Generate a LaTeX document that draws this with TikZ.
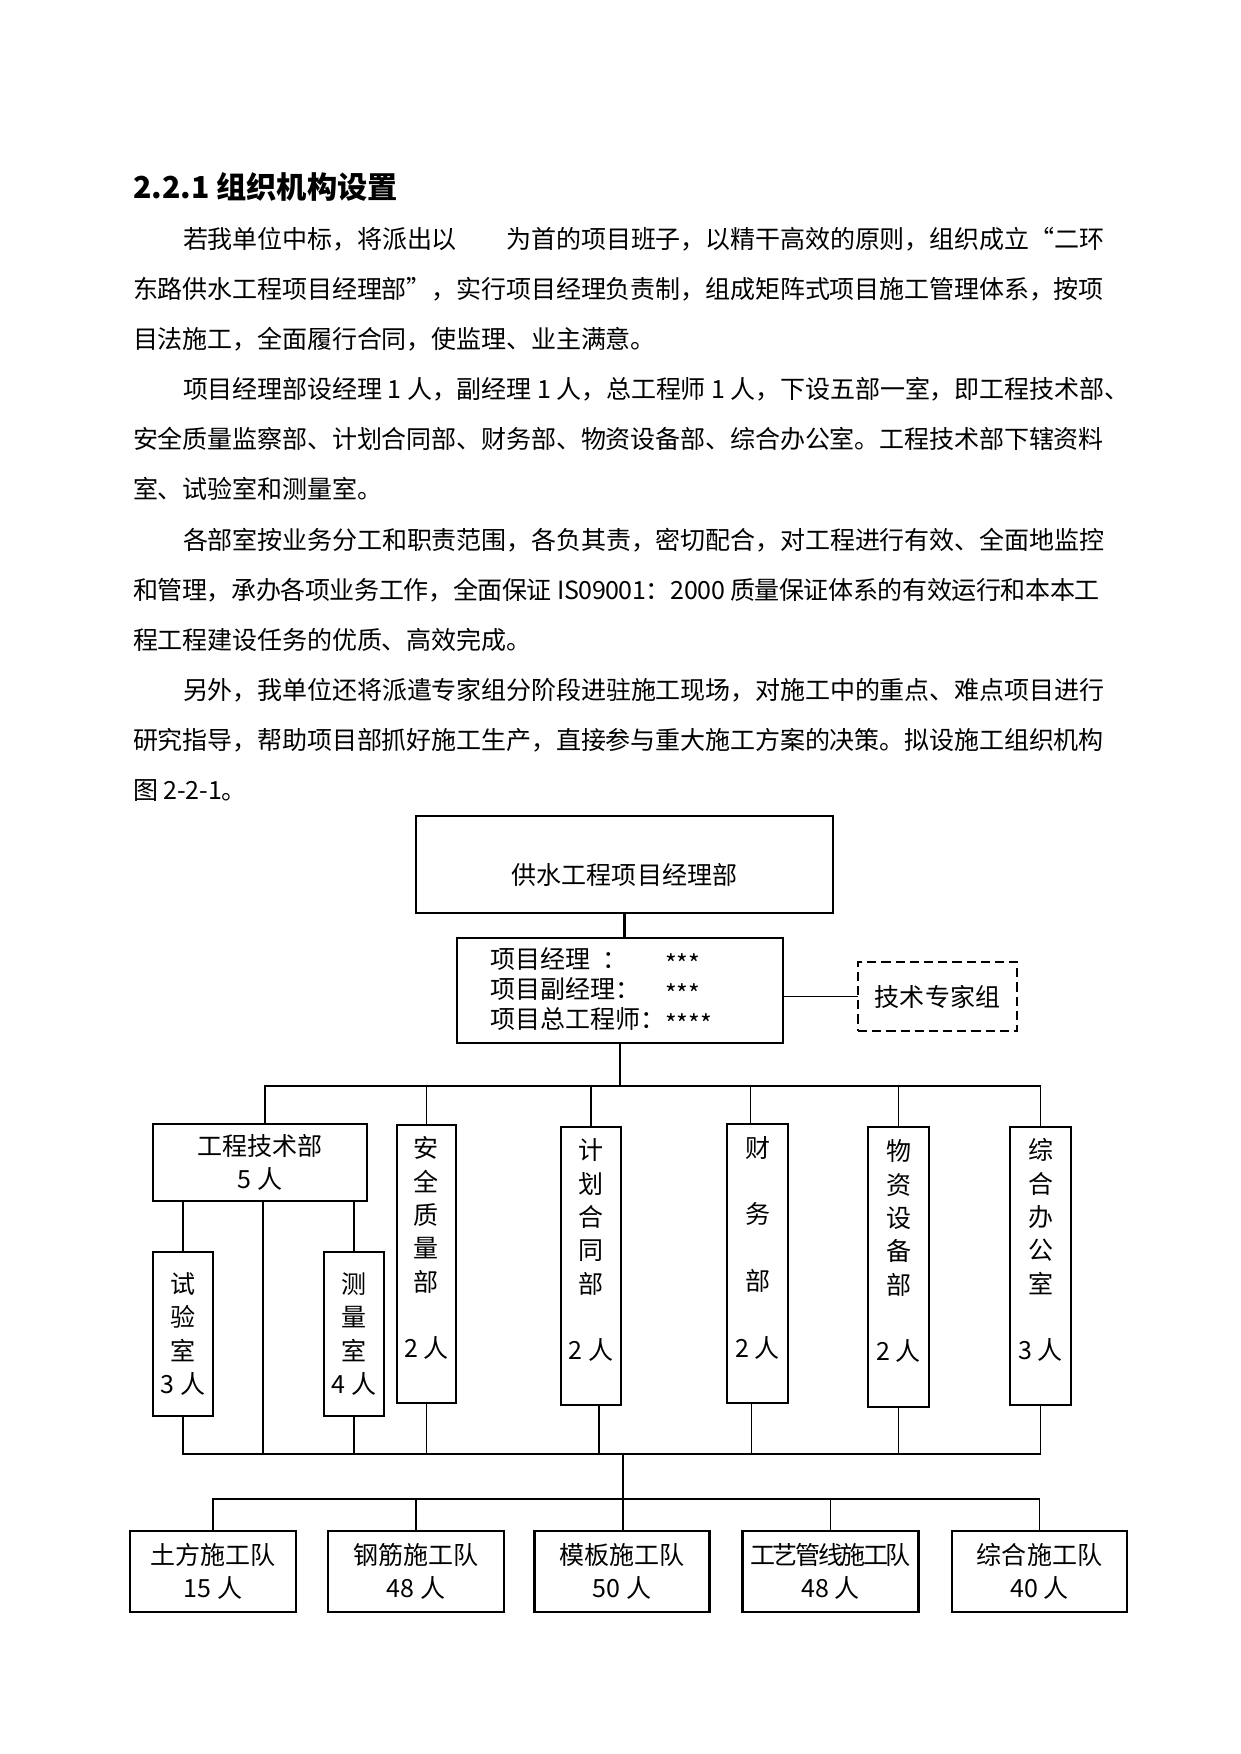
\documentclass[tikz,border=0pt]{standalone}
\usepackage{fontspec}
\setmainfont{Noto Sans CJK SC}
\newdimen\px \px=0.4797pt
\newcommand{\stars}[1]{\raisebox{-0.2em}{#1}}
\begin{document}
\begin{tikzpicture}[x=0.4797pt,y=-0.4797pt,
  txt/.style={inner sep=0pt,outer sep=0pt,anchor=base west,font=\fontsize{12}{14.4}\selectfont\addfontfeature{LetterSpace=-0.5}},
  box/.style={draw,line width=1pt,inner sep=0pt,outer sep=0pt,align=center,font=\fontsize{12}{16}\selectfont},
  link/.style={line width=0.5pt},
  heavy/.style={line width=1pt}]
\path[use as bounding box,fill=white] (0,0) rectangle (1241,1754);
\node[txt,font=\bfseries\fontsize{14.5}{17}\selectfont] (title) at (133,198) {2.2.1 组织机构设置};
\node[txt] (l1) at (183,248) {若我单位中标，将派出以　　为首的项目班子，以精干高效的原则，组织成立“二环};
\node[txt] (l2) at (133,298) {东路供水工程项目经理部”，实行项目经理负责制，组成矩阵式项目施工管理体系，按项};
\node[txt] (l3) at (133,348) {目法施工，全面履行合同，使监理、业主满意。};
\node[txt] (l4) at (183,398) {项目经理部设经理 1 人，副经理 1 人，总工程师 1 人，下设五部一室，即工程技术部、};
\node[txt] (l5) at (133,448) {安全质量监察部、计划合同部、财务部、物资设备部、综合办公室。工程技术部下辖资料};
\node[txt] (l6) at (133,498) {室、试验室和测量室。};
\node[txt] (l7) at (183,549) {各部室按业务分工和职责范围，各负其责，密切配合，对工程进行有效、全面地监控};
\node[txt,font=\fontsize{12}{14.4}\selectfont\addfontfeature{LetterSpace=-1.6}] (l8) at (133,599) {和管理，承办各项业务工作，全面保证 IS09001：2000 质量保证体系的有效运行和本本工};
\node[txt] (l9) at (133,649) {程工程建设任务的优质、高效完成。};
\node[txt] (l10) at (183,699) {另外，我单位还将派遣专家组分阶段进驻施工现场，对施工中的重点、难点项目进行};
\node[txt] (l11) at (133,749) {研究指导，帮助项目部抓好施工生产，直接参与重大施工方案的决策。拟设施工组织机构};
\node[txt] (l12) at (133,799) {图 2-2-1。};
\node[box,minimum width=417\px,minimum height=97\px,text height=21pt,text depth=1.5pt] (hq) at (624.5,864.5) {供水工程项目经理部};
\node[box,minimum width=326\px,minimum height=105\px,align=left,text width=260\px,font=\fontsize{12}{14.4}\selectfont] (mgr) at (620,990.5) {\makebox[7em][l]{项目经理\hspace{0.5em}：}\stars{***}\\\makebox[7em][l]{项目副经理：}\stars{***}\\项目总工程师：\stars{****}};
\node[box,dash pattern=on 4.4pt off 2.4pt,minimum width=159\px,minimum height=69\px] (expert) at (937.5,996.5) {技术专家组};
\node[box,minimum width=214\px,minimum height=77\px] (tech) at (260,1162.5) {工程技术部\\5 人};
\node[box,minimum width=59\px,minimum height=278\px] (safety) at (426.5,1264) {安\\全\\质\\量\\部\\~\\2 人\\~};
\node[box,minimum width=60\px,minimum height=278\px] (plan) at (591,1266) {计\\划\\合\\同\\部\\~\\2 人\\~};
\node[box,minimum width=61\px,minimum height=279\px] (finance) at (757.5,1263.5) {财\\~\\务\\~\\部\\~\\2 人\\~};
\node[box,minimum width=61\px,minimum height=280\px] (material) at (898.5,1267) {物\\资\\设\\备\\部\\~\\2 人\\~};
\node[box,minimum width=61\px,minimum height=278\px] (office) at (1040.5,1266) {综\\合\\办\\公\\室\\~\\3 人\\~};
\node[box,minimum width=60\px,minimum height=164\px] (lab) at (183,1334) {试\\验\\室\\3 人};
\node[box,minimum width=60\px,minimum height=164\px] (survey) at (354,1334) {测\\量\\室\\4 人};
\node[box,minimum width=166\px,minimum height=81\px] (t1) at (213,1571.5) {土方施工队\\15 人};
\node[box,minimum width=176\px,minimum height=81\px] (t2) at (416,1571.5) {钢筋施工队\\48 人};
\node[box,minimum width=175\px,minimum height=81\px] (t3) at (622,1571.5) {模板施工队\\50 人};
\node[box,minimum width=176\px,minimum height=81\px] (t4) at (830.5,1571.5) {{\addfontfeature{LetterSpace=-10}工艺管线施工队}\\48 人};
\node[box,minimum width=175\px,minimum height=81\px] (t5) at (1039.5,1571.5) {综合施工队\\40 人};
\coordinate (upbus) at (620,1086);
\coordinate (lowbus) at (623,1454);
\coordinate (teambus) at (623,1499);
\draw[heavy] (hq.south) -- (hq.south |- mgr.north);
\draw[link] (mgr.east |- expert.west) -- (expert.west);
\draw[heavy] (mgr.south) -- (upbus);
\draw[link] ([xshift=5\px]tech.north) -- ([xshift=5\px]tech.north |- upbus) -| (office.north);
\draw[link] ([xshift=-7\px]finance.north) -- ([xshift=-7\px]finance.north |- upbus);
\foreach \b in {safety,plan,material}
  \draw[link] (\b.north) -- (\b.north |- upbus);
\draw[link] (tech.south -| lab.north) -- (lab.north);
\draw[heavy] (tech.south -| survey.north) -- (survey.north);
\draw[link] ([xshift=3\px]tech.south) -- ([xshift=3\px]tech.south |- lowbus);
\draw[link] (lab.south) -- (lab.south |- lowbus) -- (office.south |- lowbus) -- (office.south);
\draw[link] ([xshift=8\px]plan.south) -- ([xshift=8\px]plan.south |- lowbus);
\draw[link] ([xshift=-6\px]finance.south) -- ([xshift=-6\px]finance.south |- lowbus);
\foreach \b in {survey,safety,material}
  \draw[link] (\b.south) -- (\b.south |- lowbus);
\draw[link] (lowbus) -- (lowbus |- t3.north);
\draw[link] (t1.north) -- (t1.north |- teambus) -- (t5.north |- teambus) -- (t5.north);
\foreach \b in {t2,t4}
  \draw[link] (\b.north) -- (\b.north |- teambus);
\end{tikzpicture}
\end{document}
